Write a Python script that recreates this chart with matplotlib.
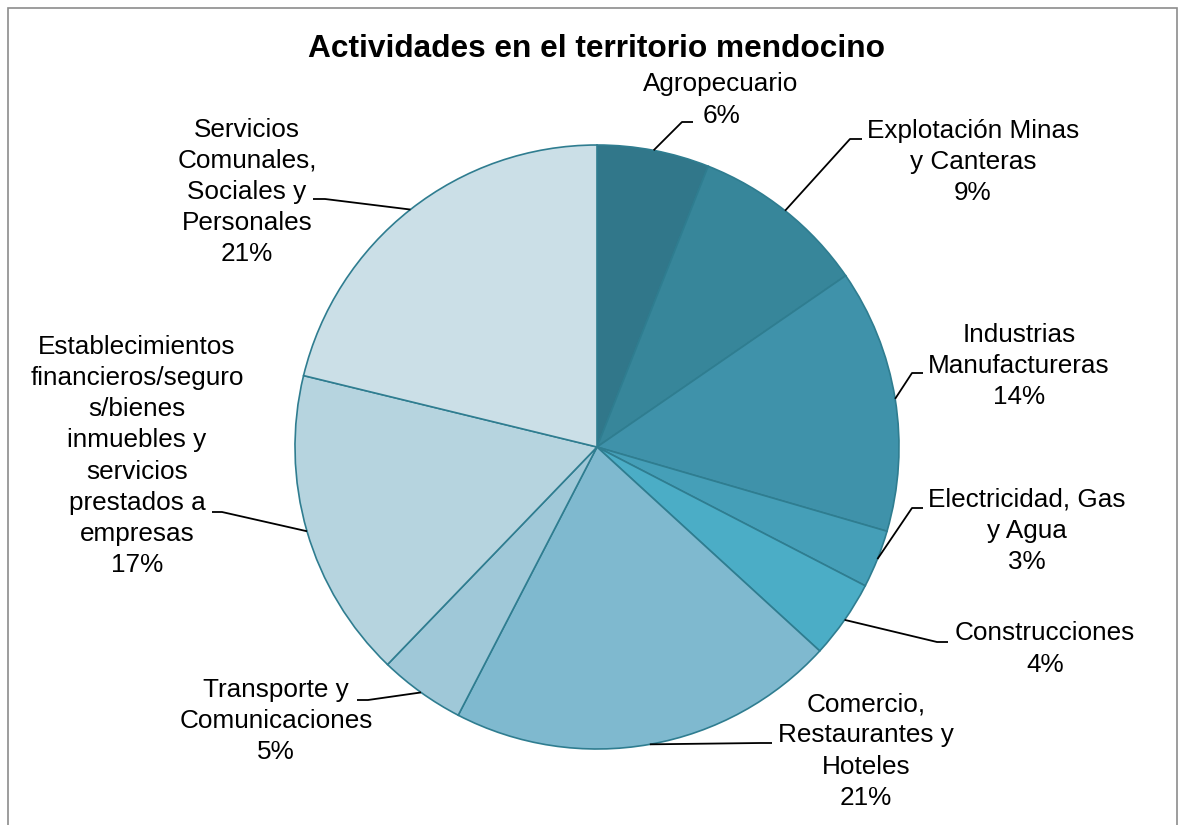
import numpy as np
import matplotlib.pyplot as plt
from matplotlib.patches import Rectangle

# data
sectors = [
    "Agropecuario",
    "Explotación Minas\ny Canteras",
    "Industrias\nManufactureras",
    "Electricidad, Gas\ny Agua",
    "Construcciones",
    "Comercio,\nRestaurantes y\nHoteles",
    "Transporte y\nComunicaciones",
    "Establecimientos\nfinancieros/seguro\ns/bienes\ninmuebles y\nservicios\nprestados a\nempresas",
    "Servicios\nComunales,\nSociales y\nPersonales",
]
shares = [6.0, 9.4, 14.1, 3.1, 4.2, 20.8, 4.6, 16.6, 21.2]
colors = ["#31778a", "#37869a", "#3f92aa", "#459fb8", "#4badc6",
          "#7fb9cf", "#9fc8d8", "#b6d4df", "#cbdfe7"]

# label layout in pixels: text centre, elbow of leader, end of leader
text_px = [(721, 100), (973, 162), (1019, 366), (1027, 531), (1045, 649),
           (866, 751), (276, 721), (137, 456), (247, 192)]
elbow_px = [(682, 122), (850, 139), (912, 373), (912, 508), (937, 642),
            (760, 743), (368, 700), (222, 512), (325, 199)]
end_px = [693, 862, 923, 923, 948, 772, 357, 212, 313]

W, H = 1185, 825
CX, CY, R = 597, 447, 302


def to_data(px, py):
    return (px - CX) / R, (CY - py) / R


fig = plt.figure(figsize=(W / 100, H / 100), dpi=100)
ax = fig.add_axes([0, 0, 1, 1])

wedges, _ = ax.pie(
    shares,
    colors=colors,
    startangle=90,
    counterclock=False,
    radius=1,
    wedgeprops=dict(edgecolor="#2f7d90", linewidth=1.2),
)

total = sum(shares)
for w, name, v, tp, ep, ex in zip(wedges, sectors, shares, text_px, elbow_px, end_px):
    theta = np.deg2rad((w.theta1 + w.theta2) / 2)
    ax_, ay_ = np.cos(theta), np.sin(theta)
    bx, by = to_data(*ep)
    cx, _ = to_data(ex, ep[1])
    ax.plot([ax_, bx, cx], [ay_, by, by], color="black", lw=1.3,
            solid_capstyle="butt", zorder=3)
    tx, ty = to_data(*tp)
    ax.text(tx, ty, f"{name}\n{v / total * 100:.0f}%", ha="center", va="center",
            fontsize=18.8, family="Liberation Sans", linespacing=1.38)

ax.set_xlim(-CX / R, (W - CX) / R)
ax.set_ylim(-(H - CY) / R, CY / R)
ax.set_aspect("equal")
ax.axis("off")

fig.text(597 / W, 1 - 49 / H, "Actividades en el territorio mendocino",
         ha="center", va="center", fontsize=22.8, fontweight="bold",
         family="Liberation Sans")

fig.patches.append(Rectangle((7.5 / W, -0.1), (1177 - 7.5) / W, 1.1 - 8.5 / H,
                             transform=fig.transFigure, fill=False,
                             edgecolor="#8c8c8c", linewidth=1.2))

plt.savefig("out.png", dpi=100)
plt.close()
